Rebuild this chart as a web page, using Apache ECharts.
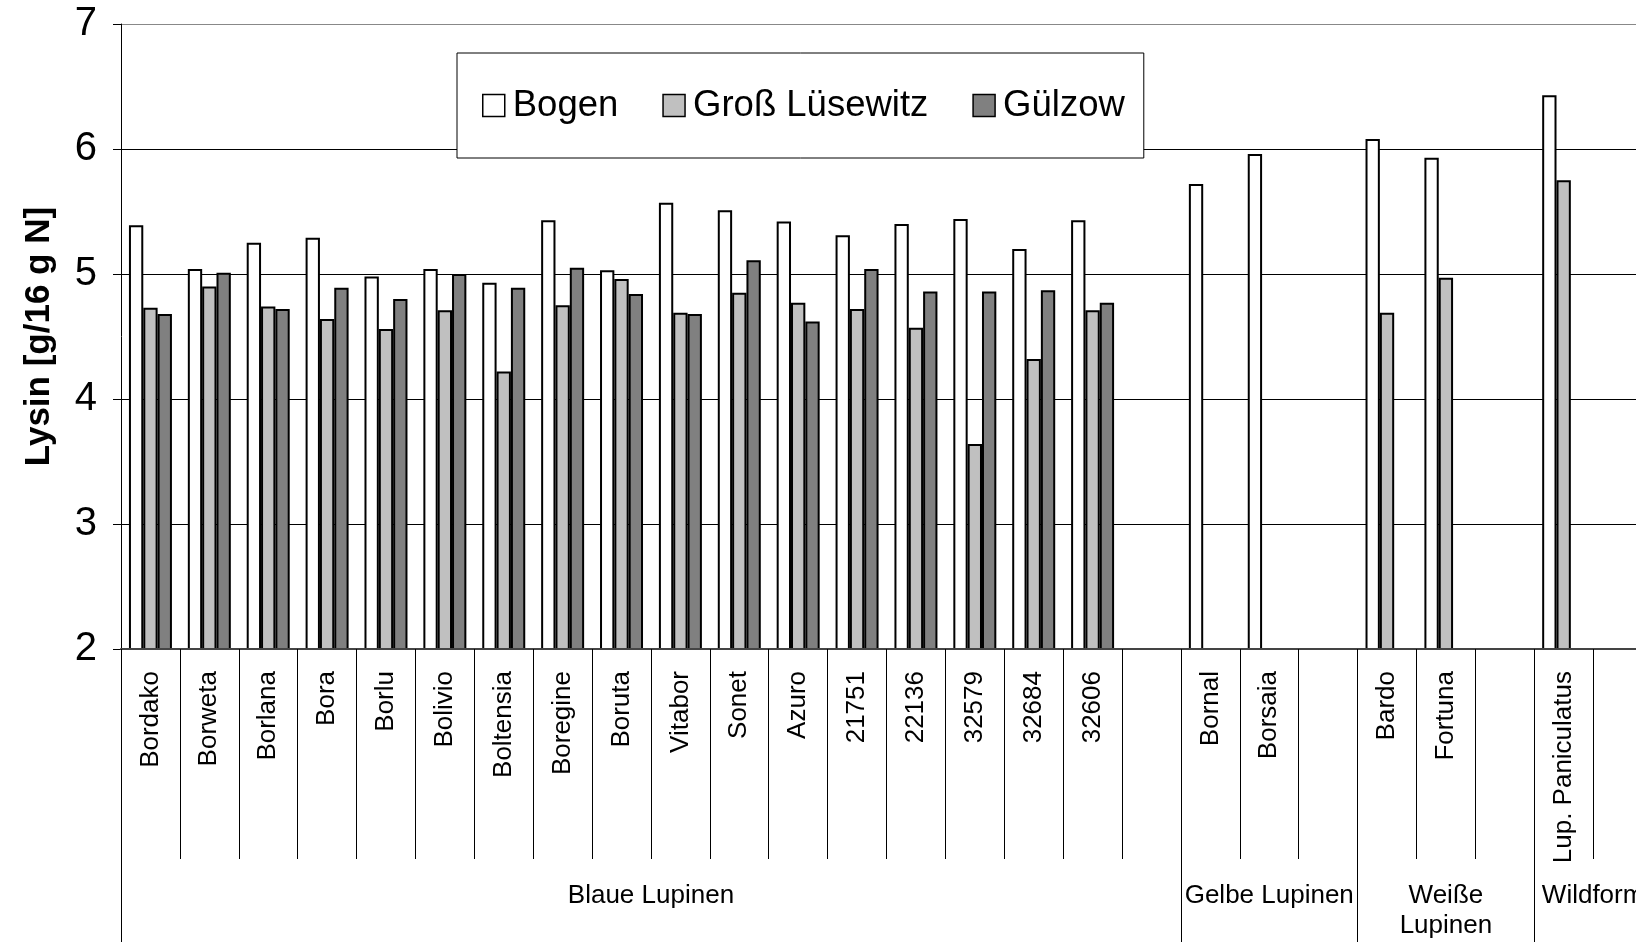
<!DOCTYPE html>
<html>
<head>
<meta charset="utf-8">
<script src="https://cdn.jsdelivr.net/npm/echarts@6/dist/echarts.min.js"></script>
<style>
html,body{margin:0;padding:0;background:#fff;overflow:hidden}
#c{width:1636px;height:942px}
</style>
</head>
<body>
<div id="c"></div>
<script>
// ---- data ----
const categories = ['Bordako','Borweta','Borlana','Bora','Borlu','Bolivio','Boltensia','Boregine','Boruta','Vitabor','Sonet','Azuro','21751','22136','32579','32684','32606',' ','Bornal','Borsaia','  ','Bardo','Fortuna','   ','Lup. Paniculatus','    '];
const seriesNames = ['Bogen','Groß Lüsewitz','Gülzow'];
const bogen          = [5.39,5.04,5.25,5.29,4.98,5.04,4.93,5.43,5.03,5.57,5.51,5.42,5.31,5.40,5.44,5.20,5.43,null,5.72,5.96,null,6.08,5.93,null,6.43,null];
const grossLuesewitz = [4.73,4.90,4.74,4.64,4.56,4.71,4.22,4.75,4.96,4.69,4.85,4.77,4.72,4.57,3.64,4.32,4.71,null,null,null,null,4.69,4.97,null,5.75,null];
const guelzow        = [4.68,5.01,4.72,4.89,4.80,5.00,4.89,5.05,4.84,4.68,5.11,4.62,5.04,4.86,4.86,4.87,4.77,null,null,null,null,null,null,null,null,null];
const groups = ['Blaue Lupinen','Gelbe Lupinen','Weiße\nLupinen','Wildform'];
const groupSpans = [18,3,3,2];
const yTicks = [2,3,4,5,6,7];
const seriesColors = ['#ffffff','#c0c0c0','#808080'];

// ---- group axis (half-category steps) ----
const groupAxisData = [];
const groupBounds = new Set([0]);
const groupCenters = new Set();
let total = 0;
groupSpans.forEach(s => { total += 2 * s; });
for (let k = 0; k <= total; k++) groupAxisData.push('');
let p = 0;
groupSpans.forEach((s, i) => {
  groupAxisData[p + s] = groups[i];
  groupCenters.add(p + s);
  p += 2 * s;
  groupBounds.add(p);
});

const FONT = "'Liberation Sans', Arial, sans-serif";
const values = [bogen, grossLuesewitz, guelzow];

const chart = echarts.init(document.getElementById('c'), null, {renderer: 'canvas'});
chart.setOption({
  animation: false,
  backgroundColor: '#fff',
  textStyle: {fontFamily: FONT},
  grid: {left: 121, top: 24, height: 625, width: 1531, containLabel: false, outerBoundsMode: 'none'},
  legend: {
    left: 457, top: 53,
    orient: 'horizontal',
    icon: 'rect',
    itemWidth: 22, itemHeight: 22, itemGap: 44,
    padding: [34, 19, 34, 25],
    backgroundColor: '#fff',
    borderColor: '#000', borderWidth: 1,
    textStyle: {fontSize: 36.5, color: '#000', fontFamily: FONT, padding: [0, 0, 0, 3]},
    data: seriesNames.map((n, i) => ({name: n, itemStyle: {color: seriesColors[i], borderColor: '#000', borderWidth: 1.5}}))
  },
  xAxis: [
    {
      type: 'category', data: categories, position: 'bottom', boundaryGap: true,
      axisLine: {show: true, lineStyle: {color: '#444', width: 2}},
      axisTick: {show: true, interval: 0, length: 210, lineStyle: {color: '#000', width: 1}},
      axisLabel: {interval: 0, rotate: 90, margin: 22, fontSize: 26, color: '#000', fontFamily: FONT},
      splitLine: {show: false}, z: 5
    },
    {
      type: 'category', data: groupAxisData, position: 'bottom', boundaryGap: false,
      axisLine: {show: false},
      axisTick: {show: true, length: 300, interval: (i) => groupBounds.has(i), lineStyle: {color: '#000', width: 1}},
      axisLabel: {interval: (i) => groupCenters.has(i), margin: 232, fontSize: 26, lineHeight: 30, color: '#000', fontFamily: FONT, align: 'center'},
      splitLine: {show: false}
    }
  ],
  yAxis: {
    type: 'value', min: yTicks[0], max: yTicks[yTicks.length - 1], interval: 1,
    name: 'Lysin [g/16 g N]', nameLocation: 'middle', nameGap: 64,
    nameTextStyle: {fontSize: 35, fontWeight: 'bold', color: '#000', fontFamily: FONT},
    axisLine: {show: true, lineStyle: {color: '#000', width: 1}},
    axisTick: {show: true, length: 8, lineStyle: {color: '#000'}},
    axisLabel: {fontSize: 40, margin: 24, color: '#000', fontFamily: FONT},
    splitLine: {show: true, lineStyle: {color: ['#000', '#000', '#000', '#000', '#000', '#888'], width: 1}}
  },
  series: seriesNames.map((n, i) => ({
    name: n, type: 'bar', xAxisIndex: 0,
    data: values[i],
    barGap: '0%', barCategoryGap: '27%',
    itemStyle: {color: seriesColors[i], borderColor: '#000', borderWidth: 2}
  }))
});
</script>
</body>
</html>
